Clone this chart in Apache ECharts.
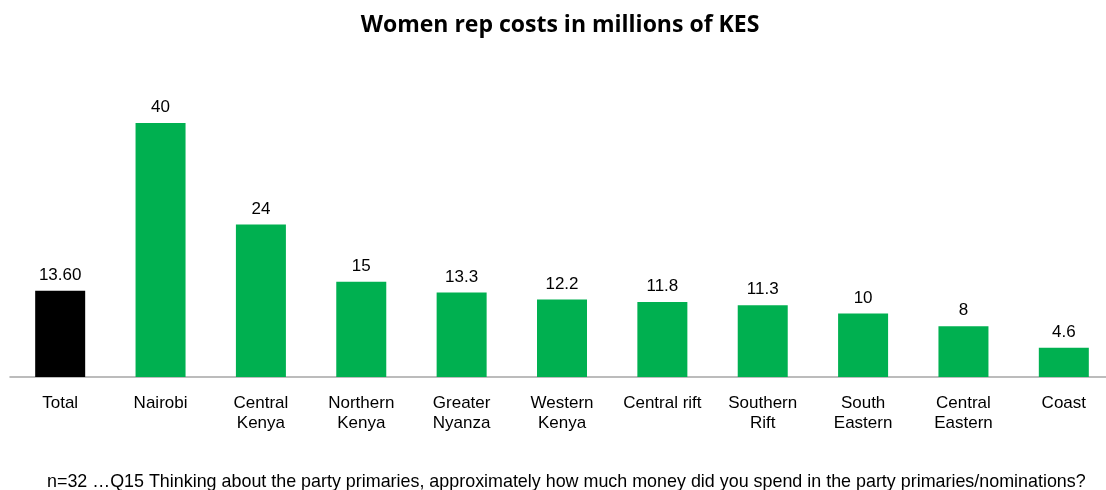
<!DOCTYPE html>
<html>
<head>
<meta charset="utf-8">
<script src="https://cdn.jsdelivr.net/npm/echarts@6/dist/echarts.min.js"></script>
<style>
    html, body { margin: 0; padding: 0; background: #fff; overflow: hidden; }
    #chart { width: 1120px; height: 490px; }
</style>
</head>
<body>
<div id="chart"></div>
<script>
const categories = ['Total', 'Nairobi', 'Central\nKenya', 'Northern\nKenya', 'Greater\nNyanza', 'Western\nKenya', 'Central rift', 'Southern\nRift', 'South\nEastern', 'Central\nEastern', 'Coast']
const values = [13.6, 40, 24, 15, 13.3, 12.2, 11.8, 11.3, 10, 8, 4.6]
const valueLabels = ['13.60', '40', '24', '15', '13.3', '12.2', '11.8', '11.3', '10', '8', '4.6']
const barColors = ['#000000', '#00B050', '#00B050', '#00B050', '#00B050', '#00B050', '#00B050', '#00B050', '#00B050', '#00B050', '#00B050']

// div is a bit wider than the window so the plot can run past the right edge
const chart = echarts.init(document.getElementById('chart'))
chart.setOption({
    animation: false,
    title: {
        text: 'Women rep costs in millions of KES',
        left: 'center',
        top: 9,
        textStyle: {
            fontFamily: 'Open Sans',
            fontWeight: 'bold',
            fontSize: 23,
            color: '#000'
        }
    },
    graphic: [{
        type: 'text',
        left: 47,
        top: 473,
        style: {
            text: 'n=32 …Q15 Thinking about the party primaries, approximately how much money did you spend in the party primaries/nominations?',
            font: '17.9px "Liberation Sans", sans-serif',
            fill: '#000'
        }
    }],
    grid: {
        left: 10,
        right: 6,
        top: 59.5,
        bottom: 113
    },
    xAxis: {
        type: 'category',
        data: categories,
        axisTick: { show: false },
        axisLine: { lineStyle: { color: '#A6A6A6', width: 1.5 } },
        axisLabel: {
            interval: 0,
            margin: 16,
            fontFamily: 'Liberation Sans',
            fontSize: 17,
            lineHeight: 20,
            color: '#000'
        }
    },
    yAxis: {
        type: 'value',
        min: 0,
        max: 50,
        show: false,
        splitLine: { show: false }
    },
    series: [{
        type: 'bar',
        barWidth: 50,
        data: values.map((v, i) => ({ value: v, itemStyle: { color: barColors[i] } })),
        label: {
            show: true,
            position: 'top',
            distance: 7,
            fontFamily: 'Liberation Sans',
            fontSize: 17,
            color: '#000',
            formatter: p => valueLabels[p.dataIndex]
        }
    }]
})
</script>
</body>
</html>
